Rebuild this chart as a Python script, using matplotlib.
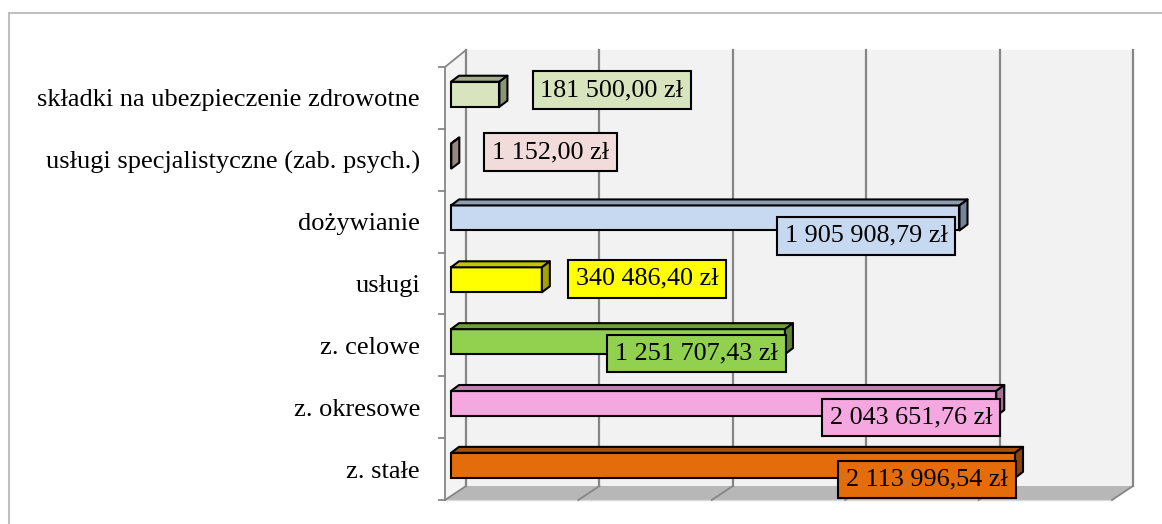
import numpy as np
import matplotlib.pyplot as plt
from matplotlib.patches import Polygon, Rectangle

# Data (bottom to top)
categories = ['z. stałe', 'z. okresowe', 'z. celowe', 'usługi', 'dożywianie',
              'usługi specjalistyczne (zab. psych.)', 'składki na ubezpieczenie zdrowotne']
values = [2113996.54, 2043651.76, 1251707.43, 340486.40, 1905908.79, 1152.00, 181500.00]
labels = ['2 113 996,54 zł', '2 043 651,76 zł', '1 251 707,43 zł', '340 486,40 zł',
          '1 905 908,79 zł', '1 152,00 zł', '181 500,00 zł']

front_colors = ['#e46c0a', '#f5a8e0', '#92d050', '#ffff00', '#c6d9f1', '#f2dcdb', '#d7e4bd']
top_colors = ['#a84f07', '#c283b0', '#6f9e3c', '#c4c400', '#8e9db2', '#b09f9f', '#a3ad8d']
side_colors = ['#8f4306', '#a86f98', '#5c8432', '#a3a300', '#75849a', '#968686', '#8a9576']
box_colors = ['#e46c0a', '#f5a8e0', '#92d050', '#ffff00', '#c6d9f1', '#f2dcdb', '#d7e4bd']

# label placement: (side, box edge offset from bar end in px, vertical offset px)
label_pos = [('right', 1, -14), ('right', 4, -14), ('right', 1, -12), ('left', 26, 1),
             ('right', -4, -18), ('left', 33, 4), ('left', 33, 4)]

W, H, DPI = 1162, 524, 100
fig = plt.figure(figsize=(W / DPI, H / DPI), dpi=DPI)
fig.patches.append(Rectangle((9 / W, -0.1), 1.2, 1.1 - 13 / H, transform=fig.transFigure,
                             fill=False, edgecolor='#bfbfbf', lw=1.5))

x0, x1, ytop, ybot = 445, 1112, 67, 500
ax = fig.add_axes([x0 / W, 1 - ybot / H, (x1 - x0) / W, (ybot - ytop) / H])
xmax = 2500000
ax.set_xlim(0, xmax)
ax.set_ylim(-0.5, 6.5)
sx = xmax / (x1 - x0)
sy = 7 / (ybot - ytop)

for s in ax.spines.values():
    s.set_visible(False)
ax.set_xticks([])
ax.set_yticks(range(len(categories)))
ax.set_yticklabels(categories, family='Liberation Serif', fontsize=19)
ax.tick_params(axis='y', length=0, pad=18)
ax.patch.set_alpha(0)

# walls and floor
dxw, dyw, dyt = 21 * sx, 14 * sy, 17 * sy
grid_c = '#868686'
ax.add_patch(Polygon([(0, -0.5), (0, 6.5), (dxw, 6.5 + dyt), (dxw, -0.5 + dyw)],
                     closed=True, facecolor='#f4f4f4', edgecolor='none', zorder=0,
                     clip_on=False))
ax.add_patch(Rectangle((dxw, -0.5 + dyw), xmax, 7 + dyt - dyw, facecolor='#f2f2f2',
                       edgecolor='none', zorder=0, clip_on=False))
ax.add_patch(Polygon([(0, -0.5), (xmax, -0.5), (xmax + dxw, -0.5 + dyw), (dxw, -0.5 + dyw)],
                     closed=True, facecolor='#b7b7b7', edgecolor='none', zorder=0,
                     clip_on=False))
ax.plot([0, xmax], [-0.5, -0.5], color='#d9d9d9', lw=1, zorder=1, clip_on=False)
for g in np.arange(0, xmax + 1, 500000):
    ax.plot([g + dxw, g + dxw], [-0.5 + dyw, 6.5 + dyt], color=grid_c, lw=1.6, zorder=1,
            clip_on=False)
    ax.plot([g, g + dxw], [-0.5, -0.5 + dyw], color=grid_c, lw=1.3, zorder=1, clip_on=False)
ax.plot([0, 0], [-0.5, 6.5], color=grid_c, lw=1.3, zorder=1, clip_on=False)
ax.plot([0, dxw], [6.5, 6.5 + dyt], color=grid_c, lw=1.3, zorder=1, clip_on=False)
for k in range(8):
    ax.plot([-6 * sx, 0], [k - 0.5, k - 0.5], color=grid_c, lw=1.3, zorder=1, clip_on=False)

# bars
off_x, off_y = 6 * sx, 3.7 * sy
bh = 25 * sy
ddx, ddy = 8 * sx, 6 * sy
yc = np.arange(len(categories)) + off_y
ax.barh(yc, values, height=bh, left=off_x, color=front_colors, edgecolor='black',
        linewidth=1.5, zorder=3, clip_on=False)
for i, v in enumerate(values):
    xa, xb = off_x, off_x + v
    yl, yh = yc[i] - bh / 2, yc[i] + bh / 2
    ax.add_patch(Polygon([(xa, yh), (xb, yh), (xb + ddx, yh + ddy), (xa + ddx, yh + ddy)],
                         closed=True, facecolor=top_colors[i], edgecolor='black', lw=1.5,
                         zorder=3, joinstyle='round', clip_on=False))
    ax.add_patch(Polygon([(xb, yl), (xb, yh), (xb + ddx, yh + ddy), (xb + ddx, yl + ddy)],
                         closed=True, facecolor=side_colors[i], edgecolor='black', lw=1.5,
                         zorder=3, joinstyle='round', clip_on=False))

# value labels
fs = 18.8
pad_px = 8
for i, v in enumerate(values):
    side, dx, dy = label_pos[i]
    end = off_x + v
    if side == 'left':
        tx = end + (dx + pad_px) * sx
    else:
        tx = end + (dx - pad_px) * sx
    ax.text(tx, yc[i] + dy * sy, labels[i], ha=side, va='center', family='Liberation Serif',
            fontsize=fs, zorder=5,
            bbox=dict(boxstyle='square,pad=0.3', facecolor=box_colors[i], edgecolor='black',
                      lw=1.5))

fig.savefig('out.png', dpi=DPI)
